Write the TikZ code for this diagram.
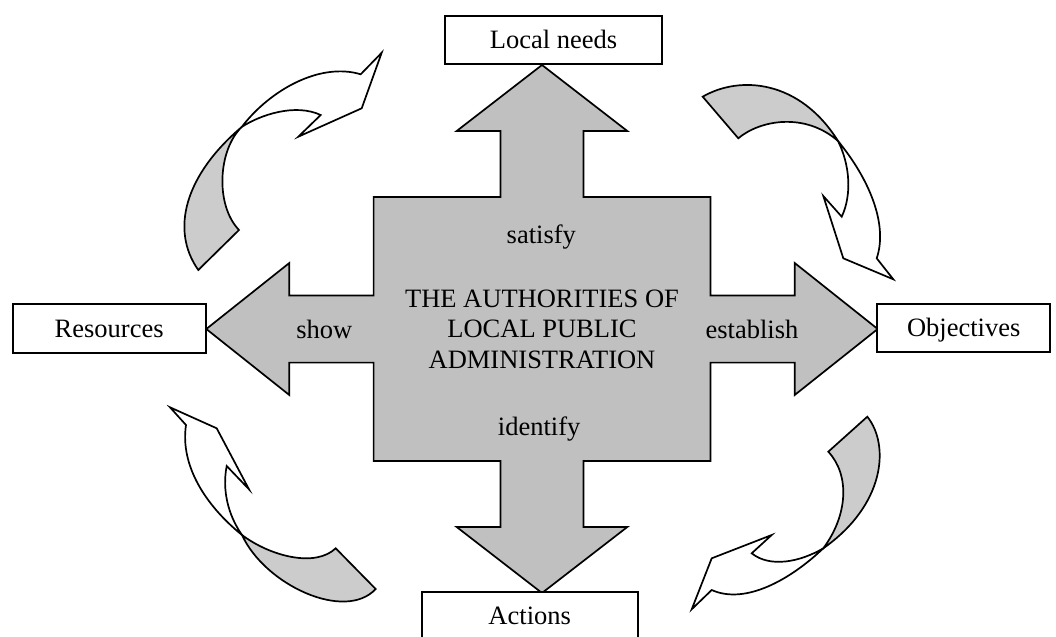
\documentclass[tikz,border=0pt]{standalone}
\usepackage{fontspec}
\setmainfont{Liberation Serif}
\definecolor{crossGR}{HTML}{C0C0C0}
\definecolor{bendGR}{HTML}{CCCCCC}

\begin{document}
\begin{tikzpicture}[x=0.5pt,y=-0.5pt,
                    boxND/.style={rectangle,
                                  draw=black,
                                  line width=0.85pt,
                                  fill=white,
                                  inner sep=0pt,
                                  text height=0.86em,
                                  text depth=0pt,
                                  font=\fontsize{13.25}{15.25}\selectfont},
                    txtND/.style={inner sep=0pt,
                                  anchor=base,
                                  font=\fontsize{13.25}{15.25}\selectfont},
                    bendBK/.style={draw=black, line width=0.85pt, fill=bendGR},
                    bendFR/.style={draw=black, line width=0.85pt, fill=white}]
        \useasboundingbox (0,0) rectangle (1056,637);

        % the big cross
        \draw[line width=0.85pt, fill=crossGR]
            (542,65) -- (627.3,131) -- (583.5,131) -- (583.5,197) -- (710.4,197)
            -- (710.4,295.4) -- (794.7,295.4) -- (794.7,263) -- (877.7,329)
            -- (794.7,395) -- (794.7,362.6) -- (710.4,362.6) -- (710.4,461)
            -- (583.5,461) -- (583.5,527) -- (627.3,527) -- (542,593)
            -- (456.7,527) -- (500.5,527) -- (500.5,461) -- (373.6,461)
            -- (373.6,362.6) -- (289.3,362.6) -- (289.3,395) -- (206.3,329)
            -- (289.3,263) -- (289.3,295.4) -- (373.6,295.4) -- (373.6,197)
            -- (500.5,197) -- (500.5,131) -- (456.7,131) -- cycle;

        % boxes
        \node[boxND, minimum width=108.5pt, minimum height=24pt](needs)   at (553.5,40)    {Local needs};
        \node[boxND, minimum width=96.5pt,  minimum height=24.3pt](res)   at (109.2,328.4) {Resources};
        \node[boxND, minimum width=86.4pt,  minimum height=24pt](obj)     at (963.7,328.3) {Objectives};
        \node[boxND, minimum width=108pt,   minimum height=24pt](act)     at (529.7,616.3) {Actions};

        % texts on the cross
        \node[txtND](satisfy)  at (541.3,243.3) {satisfy};
        \node[txtND](show)     at (324.3,338.9) {show};
        \node[txtND](establ)   at (752,338.9)   {establish};
        \node[txtND](identify) at (539.2,435.3) {identify};
        \node[inner sep=0pt, align=center,
              font=\fontsize{13.25}{15.25}\selectfont](auth) at (542,329)
              {THE AUTHORITIES OF\\LOCAL PUBLIC\\ADMINISTRATION};

        % top left bent arrow
        \draw[bendBK] (198.3,270) .. controls (170,230) and (185,175) .. (241.7,127)
            .. controls (218,150) and (215,205) .. (239,230) -- cycle;
        \draw[bendFR] (241.7,127) .. controls (270,90) and (320,62) .. (360.7,74.3)
            -- (381.7,52.7) -- (361.7,108.3) -- (298.3,136.7) -- (320.7,115)
            .. controls (295,103) and (260,115) .. (241.7,127) -- cycle;

        % top right bent arrow
        \draw[bendBK] (702.7,96.7) .. controls (740,75) and (800,80) .. (838,141)
            .. controls (805,112) and (760,120) .. (738.3,138.3) -- cycle;
        \draw[bendFR] (838,141) .. controls (870,180) and (888,225) .. (876.7,258.3)
            -- (893.3,279.3) -- (843.3,258.3) -- (823.3,196) -- (841.7,216.7)
            .. controls (852,195) and (850,165) .. (838,141) -- cycle;

        % bottom left bent arrow
        \draw[bendBK] (242,535) .. controls (270,556) and (315,568) .. (335.7,548.3)
            -- (375.7,589) .. controls (345,622) and (265,585) .. (242,535) -- cycle;
        \draw[bendFR] (186,425) -- (170,407.3) -- (216.7,428.3) -- (249,489.3) -- (226.7,466)
            .. controls (222,490) and (228,515) .. (242,535)
            .. controls (205,505) and (180,465) .. (186,425) -- cycle;

        % bottom right bent arrow
        \draw[bendBK] (828.3,451.7) -- (867.3,416.7) .. controls (890,445) and (885,505) .. (823.3,548.3)
            .. controls (848,515) and (850,475) .. (828.3,451.7) -- cycle;
        \draw[bendFR] (823.3,548.3) .. controls (800,562) and (770,568) .. (751.7,553.3)
            -- (771.7,535) -- (711.7,558.3) -- (691.7,609.3) -- (711.7,590)
            .. controls (745,605) and (790,580) .. (823.3,548.3) -- cycle;
    \end{tikzpicture}
\end{document}
